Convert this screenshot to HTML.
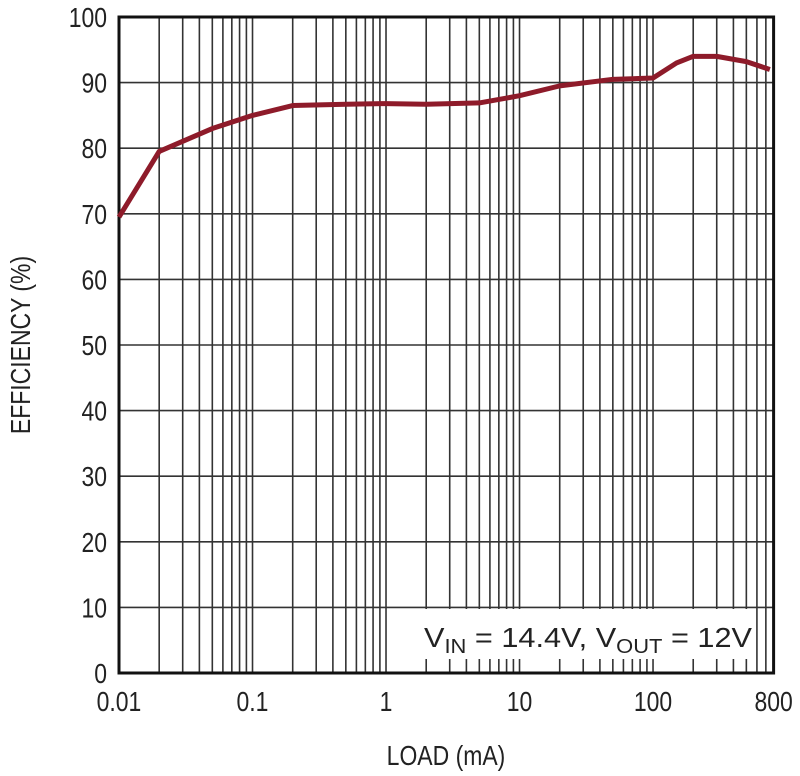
<!DOCTYPE html>
<html><head><meta charset="utf-8"><style>
body{margin:0;background:#fff;}
svg{display:block;font-family:"Liberation Sans",sans-serif;}
</style></head><body>
<svg id="c" width="800" height="776"></svg>
<script>
const loads=[0.01,0.02,0.05,0.1,0.2,0.5,1,2,5,10,20,50,100,150,200,300,500,750];
const effs=[69.5,79.5,83,85,86.5,86.7,86.8,86.7,86.9,88,89.5,90.5,90.7,93,94,94,93.2,92];
const xTicks=[0.01,0.1,1,10,100,800];
const xTickLabels=["0.01","0.1","1","10","100","800"];
const yTicks=[0,10,20,30,40,50,60,70,80,90,100];
const NS="http://www.w3.org/2000/svg";
const svg=document.getElementById('c');
const L=119,R=773.6,T=17,B=673;
const xs=v=>L+(Math.log10(v)+2)/Math.log10(80000)*(R-L);
const ys=v=>B-v/100*(B-T);
function mk(t,a,p){const e=document.createElementNS(NS,t);for(const k in a)e.setAttribute(k,a[k]);(p||svg).appendChild(e);return e;}
function condense(t){const w=t.getComputedTextLength();t.setAttribute('textLength',w*0.82);t.setAttribute('lengthAdjust','spacingAndGlyphs');}
const grid=mk('g',{});


for(let d=0.01;d<1000;d*=10){for(let m=1;m<10;m++){const v=d*m;if(v>800.001)break;const x=xs(v);
const l=mk('line',{x1:x,x2:x,y1:T,y2:B,stroke:'#333','stroke-width':1.6},grid);

}}
yTicks.forEach(v=>{const y=ys(v);
const l=mk('line',{x1:L,x2:R,y1:y,y2:y,stroke:'#333','stroke-width':1.6},grid);


const t=mk('text',{x:L-12,y:y+10,'text-anchor':'end','font-size':28,fill:'#222'});t.textContent=v;condense(t);

});
xTicks.forEach((v,i)=>{const t=mk('text',{x:xs(v),y:711,'text-anchor':'middle','font-size':28,fill:'#222'});t.textContent=xTickLabels[i];condense(t);

});
const bg=mk('rect',{x:414,y:609,width:342,height:50,fill:'#fff'});


const f=mk('rect',{x:L,y:T,width:R-L,height:B-T,fill:'none',stroke:'#111','stroke-width':3});


const an=mk('text',{x:424,y:647,'text-anchor':'start','font-size':28,fill:'#222'});
an.innerHTML='V<tspan font-size="20" dy="6">IN</tspan><tspan dy="-6"> = 14.4V, V</tspan><tspan font-size="20" dy="6">OUT</tspan><tspan dy="-6"> = 12V</tspan>';
an.setAttribute('textLength',328);an.setAttribute('lengthAdjust','spacingAndGlyphs');


const line=mk('polyline',{points:loads.map((v,i)=>xs(v)+','+ys(effs[i])).join(' '),fill:'none',stroke:'#8e1b2a','stroke-width':5,'stroke-linejoin':'round'});


const xt=mk('text',{x:446,y:765,'text-anchor':'middle','font-size':28,fill:'#222'});xt.textContent='LOAD (mA)';condense(xt);


const yt=mk('text',{x:0,y:0,'text-anchor':'middle','font-size':28,fill:'#222',transform:'translate(30,345) rotate(-90)'});yt.textContent='EFFICIENCY (%)';condense(yt);


</script>
</body></html>
